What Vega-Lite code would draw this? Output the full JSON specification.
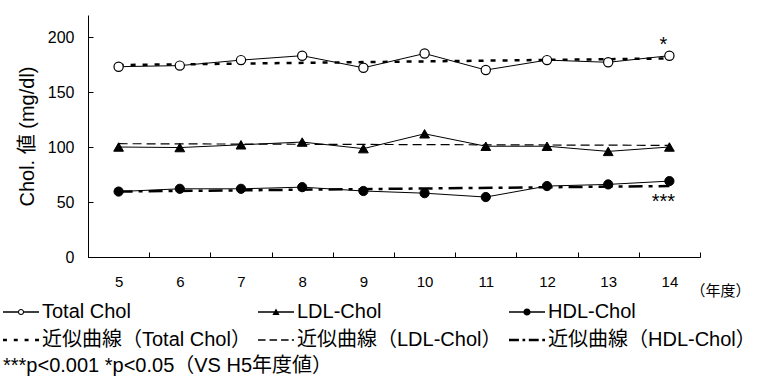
{
  "$schema": "https://vega.github.io/schema/vega-lite/v6.json",
  "width": 612,
  "height": 242,
  "autosize": "none",
  "padding": {"left": 88, "top": 15, "right": 58, "bottom": 123},
  "config": {
    "view": {"stroke": null},
    "font": "Liberation Sans, Noto Sans CJK JP",
    "axis": {"grid": false, "domainColor": "black", "tickColor": "black", "labelColor": "black", "titleColor": "black", "titleFontWeight": "normal", "domainWidth": 1, "tickWidth": 1}
  },
  "datasets": {
    "obs": [
      {"year": 5, "series": "Total Chol", "value": 173},
      {"year": 6, "series": "Total Chol", "value": 174},
      {"year": 7, "series": "Total Chol", "value": 179},
      {"year": 8, "series": "Total Chol", "value": 183},
      {"year": 9, "series": "Total Chol", "value": 172},
      {"year": 10, "series": "Total Chol", "value": 185},
      {"year": 11, "series": "Total Chol", "value": 170},
      {"year": 12, "series": "Total Chol", "value": 179},
      {"year": 13, "series": "Total Chol", "value": 177},
      {"year": 14, "series": "Total Chol", "value": 183},
      {"year": 5, "series": "LDL-Chol", "value": 100},
      {"year": 6, "series": "LDL-Chol", "value": 99.5},
      {"year": 7, "series": "LDL-Chol", "value": 102},
      {"year": 8, "series": "LDL-Chol", "value": 104.5},
      {"year": 9, "series": "LDL-Chol", "value": 98.5},
      {"year": 10, "series": "LDL-Chol", "value": 112},
      {"year": 11, "series": "LDL-Chol", "value": 100.7},
      {"year": 12, "series": "LDL-Chol", "value": 100.7},
      {"year": 13, "series": "LDL-Chol", "value": 96},
      {"year": 14, "series": "LDL-Chol", "value": 100},
      {"year": 5, "series": "HDL-Chol", "value": 59.5},
      {"year": 6, "series": "HDL-Chol", "value": 62},
      {"year": 7, "series": "HDL-Chol", "value": 62},
      {"year": 8, "series": "HDL-Chol", "value": 63.5},
      {"year": 9, "series": "HDL-Chol", "value": 60},
      {"year": 10, "series": "HDL-Chol", "value": 58},
      {"year": 11, "series": "HDL-Chol", "value": 54.5},
      {"year": 12, "series": "HDL-Chol", "value": 64.5},
      {"year": 13, "series": "HDL-Chol", "value": 66},
      {"year": 14, "series": "HDL-Chol", "value": 69}
    ],
    "trend": [
      {"year": 5, "series": "Total Chol", "value": 174.5},
      {"year": 14, "series": "Total Chol", "value": 180.5},
      {"year": 5, "series": "LDL-Chol", "value": 103},
      {"year": 14, "series": "LDL-Chol", "value": 101.5},
      {"year": 5, "series": "HDL-Chol", "value": 59.5},
      {"year": 14, "series": "HDL-Chol", "value": 64.5}
    ],
    "notes": [
      {"year": 14, "value": 193, "label": "*"},
      {"year": 14, "value": 50, "label": "***"}
    ]
  },
  "encoding": {
    "x": {
      "field": "year", "type": "ordinal",
      "scale": {"type": "band", "paddingInner": 0, "paddingOuter": 0},
      "axis": {
        "title": "（年度）", "titleFontSize": 15, "titleX": 602, "titleY": 33, "titleAlign": "left", "titleBaseline": "middle",
        "labelAngle": 0, "labelFontSize": 15, "labelPadding": 22, "tickSize": -5, "tickBand": "extent"
      }
    },
    "y": {
      "field": "value", "type": "quantitative",
      "scale": {"domain": [0, 220], "nice": false},
      "axis": {
        "title": "Chol. 値 (mg/dl)", "titleFontSize": 20, "titlePadding": 10,
        "values": [0, 50, 100, 150, 200], "labelFontSize": 16, "labelPadding": 19, "tickSize": -5
      }
    }
  },
  "layer": [
    {
      "data": {"name": "trend"},
      "transform": [{"filter": "datum.series === 'Total Chol'"}],
      "mark": {"type": "line", "color": "black", "strokeWidth": 2.5, "strokeDash": [5, 7]}
    },
    {
      "data": {"name": "trend"},
      "transform": [{"filter": "datum.series === 'LDL-Chol'"}],
      "mark": {"type": "line", "color": "black", "strokeWidth": 1.2, "strokeDash": [9, 5]}
    },
    {
      "data": {"name": "trend"},
      "transform": [{"filter": "datum.series === 'HDL-Chol'"}],
      "mark": {"type": "line", "color": "black", "strokeWidth": 2.5, "strokeDash": [14, 6, 4, 6]}
    },
    {
      "data": {"name": "obs"},
      "mark": {"type": "line", "color": "black", "strokeWidth": 1},
      "encoding": {"detail": {"field": "series"}}
    },
    {
      "data": {"name": "obs"},
      "transform": [{"filter": "datum.series === 'Total Chol'"}],
      "mark": {"type": "point", "shape": "circle", "fill": "white", "stroke": "black", "strokeWidth": 1.2, "size": 85, "opacity": 1, "filled": false}
    },
    {
      "data": {"name": "obs"},
      "transform": [{"filter": "datum.series === 'LDL-Chol'"}],
      "mark": {"type": "point", "shape": "triangle-up", "fill": "black", "stroke": "black", "strokeWidth": 1, "size": 95, "opacity": 1, "filled": true}
    },
    {
      "data": {"name": "obs"},
      "transform": [{"filter": "datum.series === 'HDL-Chol'"}],
      "mark": {"type": "point", "shape": "circle", "fill": "black", "stroke": "black", "strokeWidth": 1, "size": 85, "opacity": 1, "filled": true}
    },
    {
      "data": {"name": "obs"},
      "mark": {"type": "point", "opacity": 0, "color": "black", "filled": true},
      "encoding": {
        "shape": {
          "field": "series", "type": "nominal",
          "scale": {
            "domain": ["Total Chol", "LDL-Chol", "HDL-Chol", "近似曲線（Total Chol）", "近似曲線（LDL-Chol）", "近似曲線（HDL-Chol）"],
            "range": [
              "M-1,-0.035H-0.17V0.035H-1Z M0.17,-0.035H1V0.035H0.17Z M0.17,0A0.17,0.17 0 1,1 -0.17,0A0.17,0.17 0 1,1 0.17,0Z M0.11,0A0.11,0.11 0 1,0 -0.11,0A0.11,0.11 0 1,0 0.11,0Z",
              "M-1,-0.035H1V0.035H-1Z M-0.2,0.16L0,-0.2L0.2,0.16Z",
              "M-1,-0.035H1V0.035H-1Z M0.2,0A0.2,0.2 0 1,1 -0.2,0A0.2,0.2 0 1,1 0.2,0Z",
              "M-1,-0.07H-0.78V0.07H-1Z M-0.4,-0.07H-0.18V0.07H-0.4Z M0.2,-0.07H0.42V0.07H0.2Z M0.78,-0.07H1V0.07H0.78Z",
              "M-1,-0.035H-0.58V0.035H-1Z M-0.36,-0.035H0.06V0.035H-0.36Z M0.28,-0.035H0.7V0.035H0.28Z M0.88,-0.035H1V0.035H0.88Z",
              "M-1,-0.07H-0.45V0.07H-1Z M-0.25,-0.07H-0.1V0.07H-0.25Z M0.1,-0.07H0.65V0.07H0.1Z M0.85,-0.07H1V0.07H0.85Z"
            ]
          },
          "legend": {
            "title": "***p<0.001 *p<0.05（VS H5年度値）",
            "orient": "none", "legendX": -85, "legendY": 286,
            "direction": "horizontal", "columns": 3,
            "titleOrient": "bottom", "titleAnchor": "start", "titleFontSize": 20, "titleFontWeight": "normal", "titleColor": "black", "titlePadding": 5, "titleLimit": 600,
            "labelFontSize": 20, "labelColor": "black", "labelLimit": 400, "labelOffset": 3,
            "symbolSize": 1296, "symbolOpacity": 1, "symbolFillColor": "black", "symbolStrokeWidth": 0,
            "clipHeight": 22, "columnPadding": 7, "rowPadding": 6
          }
        }
      }
    },
    {
      "data": {"name": "notes"},
      "mark": {"type": "text", "fontSize": 20, "color": "black", "dx": -6, "baseline": "middle"},
      "encoding": {"text": {"field": "label"}}
    }
  ]
}
